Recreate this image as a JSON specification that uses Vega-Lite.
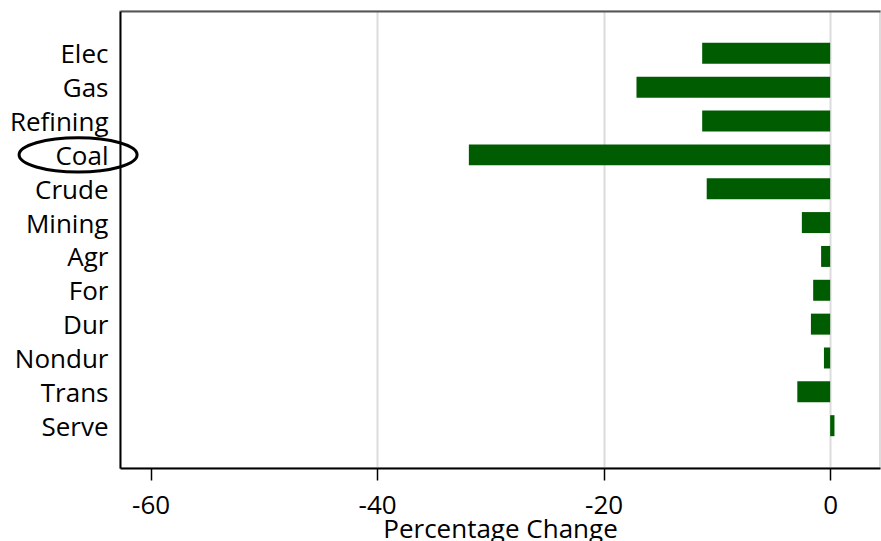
{
  "$schema": "https://vega.github.io/schema/vega-lite/v6.json",
  "width": 760,
  "height": 457,
  "autosize": {"type": "none"},
  "padding": {"left": 120, "top": 11, "right": 1, "bottom": 73},
  "background": "white",
  "config": {
    "view": {"stroke": "#dddddd", "strokeWidth": 2},
    "font": "Open Sans"
  },
  "resolve": {"axis": {"x": "independent"}},
  "datasets": {
    "bars": [
      {"sector": "Elec", "change": -11.3},
      {"sector": "Gas", "change": -17.1},
      {"sector": "Refining", "change": -11.3},
      {"sector": "Coal", "change": -31.9},
      {"sector": "Crude", "change": -10.9},
      {"sector": "Mining", "change": -2.5},
      {"sector": "Agr", "change": -0.8},
      {"sector": "For", "change": -1.5},
      {"sector": "Dur", "change": -1.7},
      {"sector": "Nondur", "change": -0.55},
      {"sector": "Trans", "change": -2.9},
      {"sector": "Serve", "change": 0.38}
    ],
    "mark": [
      {"sector": "Coal", "pos": -66.4}
    ]
  },
  "layer": [
    {
      "data": {"name": "bars"},
      "mark": {"type": "bar", "color": "#005c00"},
      "encoding": {
        "y": {
          "field": "sector",
          "type": "nominal",
          "sort": null,
          "scale": {"paddingInner": 0.38, "paddingOuter": 0.94},
          "axis": {
            "title": null,
            "ticks": false,
            "labelFontSize": 26,
            "labelColor": "#000000",
            "labelPadding": 12,
            "labelOffset": 2,
            "domainColor": "#000000",
            "domainWidth": 2,
            "grid": false
          }
        },
        "x": {
          "field": "change",
          "type": "quantitative",
          "scale": {"domain": [-62.7, 4.4], "nice": false, "zero": false},
          "axis": {
            "orient": "bottom",
            "values": [-60, -40, -20, 0],
            "labelExpr": "datum.value + ''",
            "title": "Percentage Change",
            "titleFontSize": 26,
            "titleFontWeight": "normal",
            "titleColor": "#000000",
            "titlePadding": -2,
            "labelFontSize": 26,
            "labelColor": "#000000",
            "labelPadding": 12,
            "tickSize": 12,
            "tickColor": "#000000",
            "tickWidth": 1.5,
            "domainColor": "#000000",
            "domainWidth": 2,
            "grid": true,
            "gridColor": "#dcdcdc",
            "gridWidth": 2,
            "gridOpacity": {"condition": {"test": "datum.value === -60", "value": 0}, "value": 1}
          }
        }
      }
    },
    {
      "data": {"name": "mark"},
      "mark": {
        "type": "point",
        "filled": false,
        "stroke": "#000000",
        "strokeWidth": 3,
        "opacity": 1,
        "size": 13924,
        "shape": "M -1 0 C -1 -0.16 -0.552 -0.29 0 -0.29 C 0.552 -0.29 1 -0.16 1 0 C 1 0.16 0.552 0.29 0 0.29 C -0.552 0.29 -1 0.16 -1 0 Z"
      },
      "encoding": {
        "y": {"field": "sector", "type": "nominal", "sort": null},
        "x": {
          "field": "pos",
          "type": "quantitative",
          "axis": {
            "orient": "top",
            "title": null,
            "labels": false,
            "ticks": false,
            "grid": false,
            "domainColor": "#555555",
            "domainWidth": 2
          }
        }
      }
    }
  ]
}
